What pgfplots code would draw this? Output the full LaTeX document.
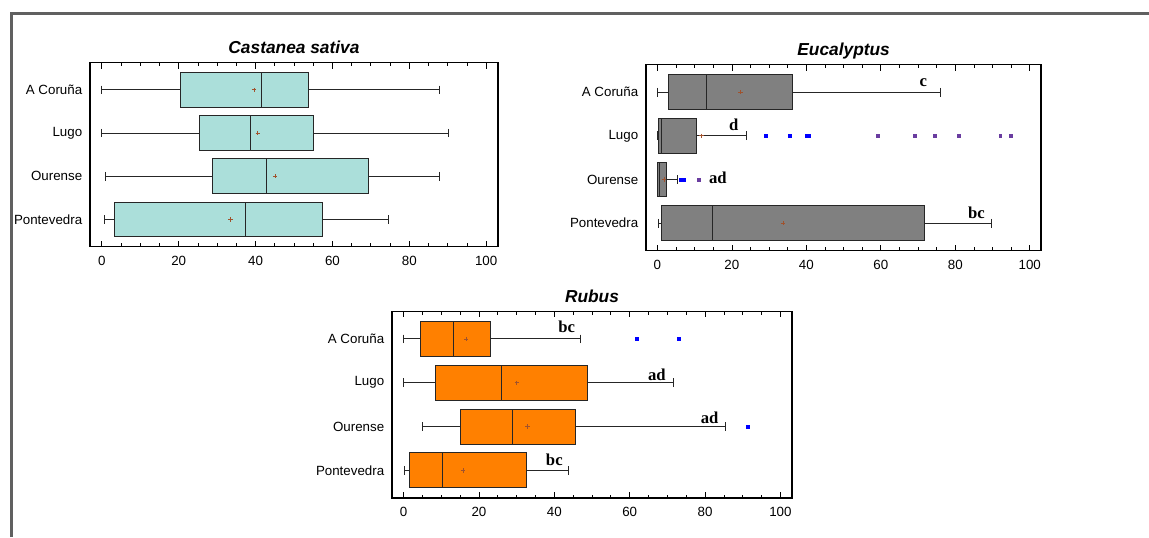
\documentclass[border=0pt]{standalone}
\usepackage{fontspec}
\setmainfont{Liberation Sans}
\newfontfamily\lettfont{Liberation Serif}
\usepackage{pgfplots}
\pgfplotsset{compat=1.18}
\usepgfplotslibrary{statistics}
\definecolor{tealbox}{HTML}{ABDFDA}
\definecolor{graybox}{HTML}{808080}
\definecolor{orangebox}{HTML}{FF8000}
\definecolor{meanc}{HTML}{A0522D}
\definecolor{framec}{HTML}{606060}
\definecolor{farout}{HTML}{6A3DA0}
\pgfplotsset{
  mybox/.style={
    scale only axis,
    xmin=-3, xmax=103, ymin=0.37, ymax=4.63, y dir=reverse,
    xtick={0,20,...,100}, minor x tick num=3,
    ytick={1,2,3,4}, yticklabels={A Coruña, Lugo, Ourense, Pontevedra},
    ytick style={draw=none},
    tick align=inside,
    major tick length=4.5pt, minor tick length=2.5pt,
    every tick/.style={black, line width=0.6pt},
    axis line style={line width=1.2pt},
    tick label style={font=\fontsize{10}{12}\selectfont},
    xticklabel style={yshift=-3.5pt},
    yticklabel style={xshift=-2.5pt},
    /pgf/number format/assume math mode=true,
    every axis title shift=0pt,
    title style={at={(0.5,1)}, anchor=base, yshift=7pt, font=\fontsize{13}{15}\selectfont\bfseries\itshape},
    boxplot/draw direction=x,
    clip=false,
  },
  bx/.style={draw=black!85, line width=0.75pt, solid, mark=none},
  meanm/.style={only marks, mark=+, mark size=1.6pt, meanc, mark options={line width=0.6pt}},
  outm/.style={only marks, mark=square*, mark size=1.05pt, blue},
  faroutm/.style={only marks, mark=square*, mark size=1.05pt, farout},
}
\tikzset{lett/.style={font=\lettfont\fontsize{12.5}{14}\selectfont\bfseries, anchor=base, inner sep=0pt}}
\begin{document}
\begin{tikzpicture}
\useasboundingbox (0,0) rectangle (861.75pt,-402.75pt);
\draw[framec, line width=2.25pt] (8.25pt,-402.75pt) -- (8.25pt,-10.1pt) -- (861.75pt,-10.1pt);

% Castanea sativa
\begin{axis}[mybox, at={(67.7pt,-47.0pt)}, anchor=north west, width=305.6pt, height=138pt, title={Castanea sativa}]
\addplot[bx, fill=tealbox, boxplot prepared={draw position=1, lower whisker=0, lower quartile=20.5, median=41.6, upper quartile=53.7, upper whisker=87.9, box extend=0.8, whisker extend=0.2}] coordinates {};
\addplot[bx, fill=tealbox, boxplot prepared={draw position=2, lower whisker=0, lower quartile=25.4, median=38.7, upper quartile=55.2, upper whisker=90.2, box extend=0.8, whisker extend=0.2}] coordinates {};
\addplot[bx, fill=tealbox, boxplot prepared={draw position=3, lower whisker=1.0, lower quartile=28.7, median=42.8, upper quartile=69.4, upper whisker=87.9, box extend=0.8, whisker extend=0.2}] coordinates {};
\addplot[bx, fill=tealbox, boxplot prepared={draw position=4, lower whisker=0.8, lower quartile=3.4, median=37.4, upper quartile=57.5, upper whisker=74.5, box extend=0.8, whisker extend=0.2}] coordinates {};
\addplot[meanm] coordinates {(39.6,1) (40.6,2) (45.1,3) (33.5,4)};
\end{axis}

% Eucalyptus
\begin{axis}[mybox, at={(484.7pt,-48.5pt)}, anchor=north west, width=296.0pt, height=139.5pt, title={Eucalyptus}]
\addplot[bx, fill=graybox, boxplot prepared={draw position=1, lower whisker=0, lower quartile=3.1, median=13.2, upper quartile=36.4, upper whisker=75.9, box extend=0.8, whisker extend=0.2}] coordinates {};
\addplot[bx, fill=graybox, boxplot prepared={draw position=2, lower whisker=0, lower quartile=0.2, median=1.2, upper quartile=10.5, upper whisker=23.8, box extend=0.8, whisker extend=0.2}] coordinates {};
\addplot[bx, fill=graybox, boxplot prepared={draw position=3, lower whisker=0, lower quartile=0, median=0.5, upper quartile=2.3, upper whisker=5.3, box extend=0.8, whisker extend=0.2}] coordinates {};
\addplot[bx, fill=graybox, boxplot prepared={draw position=4, lower whisker=0.3, lower quartile=1.1, median=14.9, upper quartile=71.8, upper whisker=89.7, box extend=0.8, whisker extend=0.2}] coordinates {};
\addplot[outm] coordinates {(29.2,2) (35.6,2) (40.1,2) (40.7,2) (6.3,3) (6.6,3) (6.9,3) (7.2,3)};
\addplot[faroutm] coordinates {(59.1,2) (69.1,2) (74.5,2) (81.0,2) (92.1,2) (94.8,2) (11.0,3)};
\addplot[meanm] coordinates {(22.3,1) (11.8,2) (1.8,3) (33.7,4)};
\node[lett] at (axis cs:71.4,0.86) {c};
\node[lett] at (axis cs:20.5,1.88) {d};
\node[lett, anchor=base west] at (axis cs:13.8,3.09) {ad};
\node[lett] at (axis cs:85.7,3.89) {bc};
\end{axis}

% Rubus
\begin{axis}[mybox, at={(294.2pt,-233.5pt)}, anchor=north west, width=299.6pt, height=140.0pt, title={Rubus}]
\addplot[bx, fill=orangebox, boxplot prepared={draw position=1, lower whisker=0, lower quartile=4.4, median=13.3, upper quartile=23.1, upper whisker=47.0, box extend=0.8, whisker extend=0.2}] coordinates {};
\addplot[bx, fill=orangebox, boxplot prepared={draw position=2, lower whisker=0, lower quartile=8.4, median=26.1, upper quartile=48.9, upper whisker=71.5, box extend=0.8, whisker extend=0.2}] coordinates {};
\addplot[bx, fill=orangebox, boxplot prepared={draw position=3, lower whisker=5.0, lower quartile=15.2, median=28.9, upper quartile=45.5, upper whisker=85.3, box extend=0.8, whisker extend=0.2}] coordinates {};
\addplot[bx, fill=orangebox, boxplot prepared={draw position=4, lower whisker=0.3, lower quartile=1.7, median=10.4, upper quartile=32.7, upper whisker=43.7, box extend=0.8, whisker extend=0.2}] coordinates {};
\addplot[outm] coordinates {(61.9,1) (73.0,1) (91.3,3)};
\addplot[meanm] coordinates {(16.6,1) (30.0,2) (32.9,3) (15.8,4)};
\node[lett] at (axis cs:43.3,0.86) {bc};
\node[lett] at (axis cs:67.2,1.94) {ad};
\node[lett] at (axis cs:81.2,2.92) {ad};
\node[lett] at (axis cs:40.0,3.89) {bc};
\end{axis}
\end{tikzpicture}
\end{document}
